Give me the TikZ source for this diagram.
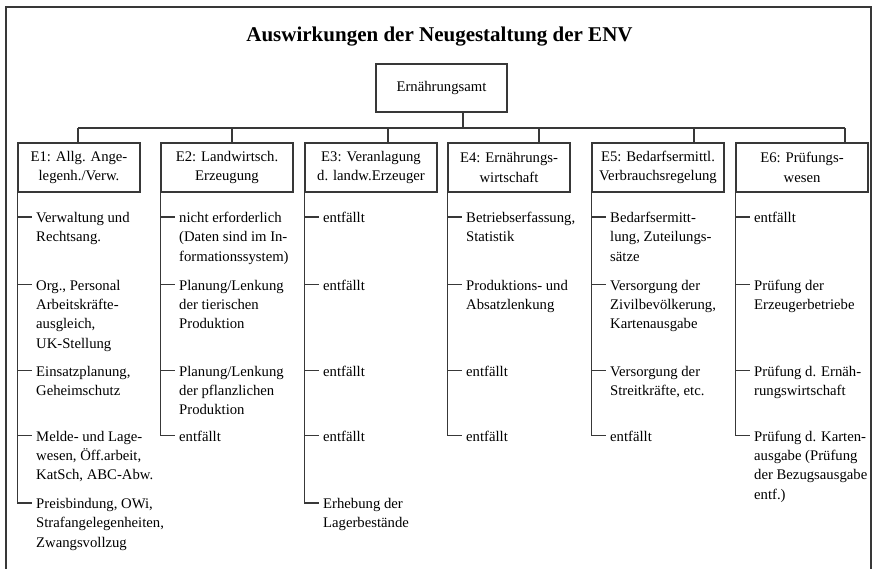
\documentclass[tikz,border=0pt]{standalone}
\usepackage{fontspec}
\setmainfont{Liberation Serif}
\newcommand\fsz{\fontsize{14.7}{19.4}\selectfont}
\tikzset{
  ln/.style={line width=1.1pt, draw=black!78},
  catbox/.style={draw=black!78, line width=1.1pt, align=center, inner sep=0pt, minimum height=49pt, font=\fsz},
  item/.style={anchor=base west, inner sep=0pt, font=\fsz},
}
\newcommand\itm[5]{%
  \node[item] (#1) at (#3+18,#4+5.5) {\parbox[t]{200pt}{\raggedright #5}};
  \coordinate (#1d) at ([yshift=5.5pt]#1.base west);
  \draw[ln] (#2.south west |- #1d) -- ([xshift=-4pt]#1d);}
\begin{document}
\begin{tikzpicture}[x=1pt,y=-1pt]
\useasboundingbox (0,0) rectangle (875,568);
\begin{scope}
\clip (0,0) rectangle (875,568);
\draw[ln] (6,7) rectangle (871,572);
\end{scope}
\node[font=\fontsize{21}{25}\selectfont\bfseries, anchor=base, inner sep=0pt] (title) at (439.5,41) {Auswirkungen der Neugestaltung der ENV};
\node[draw=black!78, line width=1.1pt, inner sep=0pt, minimum width=131pt, minimum height=48pt, font=\fsz] (amt) at (441.5,88) {Ernährungsamt};
% categories
\node[catbox, minimum width=122pt] (E1) at (79,167.5) {E1: Allg. Ange-\\legenh./Verw.};
\node[catbox, minimum width=132pt] (E2) at (227,167.5) {E2: Landwirtsch.\\Erzeugung};
\node[catbox, minimum width=132pt] (E3) at (371,167.5) {E3: Veranlagung\\d. landw.Erzeuger};
\node[catbox, minimum width=122pt] (E4) at (509,167.5) {E4: Ernährungs-\\wirtschaft};
\node[catbox, minimum width=132pt] (E5) at (658,167.5) {E5: Bedarfsermittl.\\Verbrauchsregelung};
\node[catbox, minimum width=132pt] (E6) at (802,167.5) {E6: Prüfungs-\\wesen};
% bus
\coordinate (s0) at (463,128);
\coordinate (s1) at (78,128);
\coordinate (s2) at (232,128);
\coordinate (s3) at (388,128);
\coordinate (s4) at (539,128);
\coordinate (s5) at (694,128);
\coordinate (s6) at (845,128);
\draw[ln] (amt.south -| s0) -- (s0);
\draw[ln] (s1) -- (s6);
\foreach \i in {1,...,6} { \draw[ln] (s\i) -- (s\i |- E\i.north); }
% E1 items
\itm{a1}{E1}{18}{217}{Verwaltung und\\Rechtsang.}
\itm{a2}{E1}{18}{284.5}{Org., Personal\\Arbeitskräfte-\\ausgleich,\\UK-Stellung}
\itm{a3}{E1}{18}{370.5}{Einsatzplanung,\\Geheimschutz}
\itm{a4}{E1}{18}{435.5}{Melde- und Lage-\\wesen, Öff.arbeit,\\KatSch, ABC-Abw.}
\itm{a5}{E1}{18}{503}{Preisbindung, OWi,\\Strafangelegenheiten,\\Zwangsvollzug}
\draw[ln] (E1.south west) -- (E1.south west |- a5d);
% E2 items
\itm{b1}{E2}{161}{217}{nicht erforderlich\\(Daten sind im In-\\formationssystem)}
\itm{b2}{E2}{161}{284.5}{Planung/Lenkung\\der tierischen\\Produktion}
\itm{b3}{E2}{161}{370.5}{Planung/Lenkung\\der pflanzlichen\\Produktion}
\itm{b4}{E2}{161}{435.5}{entfällt}
\draw[ln] (E2.south west) -- (E2.south west |- b4d);
% E3 items
\itm{c1}{E3}{305}{217}{entfällt}
\itm{c2}{E3}{305}{284.5}{entfällt}
\itm{c3}{E3}{305}{370.5}{entfällt}
\itm{c4}{E3}{305}{435.5}{entfällt}
\itm{c5}{E3}{305}{503}{Erhebung der\\Lagerbestände}
\draw[ln] (E3.south west) -- (E3.south west |- c5d);
% E4 items
\itm{d1}{E4}{448}{217}{Betriebserfassung,\\Statistik}
\itm{d2}{E4}{448}{284.5}{Produktions- und\\Absatzlenkung}
\itm{d3}{E4}{448}{370.5}{entfällt}
\itm{d4}{E4}{448}{435.5}{entfällt}
\draw[ln] (E4.south west) -- (E4.south west |- d4d);
% E5 items
\itm{e1}{E5}{592}{217}{Bedarfsermitt-\\lung, Zuteilungs-\\sätze}
\itm{e2}{E5}{592}{284.5}{Versorgung der\\Zivilbevölkerung,\\Kartenausgabe}
\itm{e3}{E5}{592}{370.5}{Versorgung der\\Streitkräfte, etc.}
\itm{e4}{E5}{592}{435.5}{entfällt}
\draw[ln] (E5.south west) -- (E5.south west |- e4d);
% E6 items
\itm{f1}{E6}{736}{217}{entfällt}
\itm{f2}{E6}{736}{284.5}{Prüfung der\\Erzeugerbetriebe}
\itm{f3}{E6}{736}{370.5}{Prüfung d. Ernäh-\\rungswirtschaft}
\itm{f4}{E6}{736}{435.5}{Prüfung d. Karten-\\ausgabe (Prüfung\\der Bezugsausgabe\\entf.)}
\draw[ln] (E6.south west) -- (E6.south west |- f4d);
\end{tikzpicture}
\end{document}
